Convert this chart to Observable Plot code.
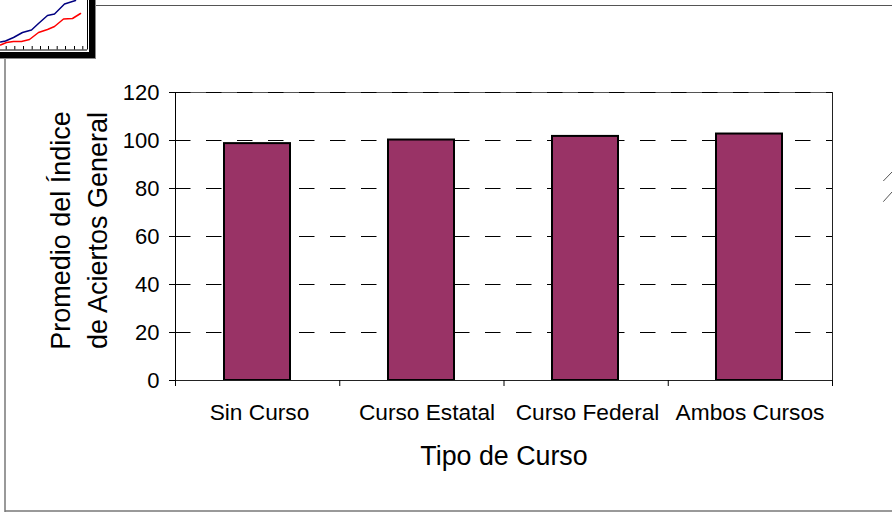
<!DOCTYPE html>
<html><head><meta charset="utf-8">
<script src="https://cdn.jsdelivr.net/npm/d3@7"></script>
<script src="https://cdn.jsdelivr.net/npm/@observablehq/plot@0.6"></script>
<style>
html,body{margin:0;padding:0;background:#fff;overflow:hidden}
#page{position:relative;width:892px;height:512px;overflow:hidden}
#page>*{position:absolute;left:0;top:0}
svg{font-family:"Liberation Sans",Arial,sans-serif}
#page>#thumbFrame{left:-12px;top:-12px;width:101px;height:64px;border-right:6px solid #000;border-bottom:6px solid #000;box-shadow:1px 1px 0 #888;background:#fff}
</style></head><body>
<div id="page">
<svg id="deco" width="892" height="512">
  <g stroke="#555" fill="none">
    <line x1="95" y1="5.5" x2="892" y2="5.5"/>
    <line x1="5" y1="58" x2="5" y2="512" stroke-width="1.5" stroke="#777"/>
    <line x1="5" y1="511" x2="892" y2="511" stroke-width="1.5" stroke="#777"/>
    <line x1="883.3" y1="181" x2="892" y2="172"/>
    <line x1="883.3" y1="201.7" x2="892" y2="192"/>
  </g>
</svg>
<div id="thumbFrame"></div>
</div>
<script>
const categories = ["Sin Curso","Curso Estatal","Curso Federal","Ambos Cursos"];
const promedio = [98.7,100.2,101.7,102.7];
const yTicks = [0,20,40,60,80,100,120];
const gridValues = [20,40,60,80,100,120];
const yTitle = "Promedio del Índice\nde Aciertos General";
const xTitle = "Tipo de Curso";
const thumbBlueX = [0,5,13,22,31,38,47,54,64,75];
const thumbBlueY = [41.5,40.5,37,32,29.5,23,15,13.5,3.5,0];
const thumbRedX = [0,6,13,21,29,38,47,54,63,72,80];
const thumbRedY = [44.5,42,41,41,39,32,29,26,18.5,18,13];
const thumbTicks = [5.7,14.3,23,31.7,40,48,56.7,65,74,82.3];

const table = categories.map((c,i)=>({c,v:promedio[i]}));
const labelShift = [1.5,5,1.5,0];
const ink = "#000", fontSize = 22;
const box = {width:892,height:512,marginLeft:175,marginRight:60,marginTop:92,marginBottom:132};

const chart = Plot.plot({
  ...box,
  style:{background:"transparent",fontFamily:"'Liberation Sans',Arial,sans-serif",color:ink},
  x:{type:"band",domain:categories,paddingInner:0.6,paddingOuter:0.3,align:0.5,label:null,axis:null},
  y:{domain:[0,120],label:null,axis:null},
  marks:[
    Plot.ruleY([120],{stroke:"#555",strokeWidth:1}),
    Plot.ruleY(gridValues,{stroke:ink,strokeWidth:1,strokeDasharray:"15.5,15.5"}),
    Plot.barY(table,{x:"c",y:"v",fill:"#993366",stroke:ink,strokeWidth:2,dx:-1}),
    Plot.axisY({ticks:yTicks,tickSize:6,tickPadding:10,fontSize,label:null,stroke:ink,fill:ink}),
    Plot.frame({anchor:"left",stroke:ink}),
    Plot.frame({anchor:"right",stroke:"#222"}),
    Plot.frame({anchor:"bottom",stroke:"#222"}),
    ...categories.map((c,i)=>Plot.text([c],{x:d=>d,frameAnchor:"bottom",dy:32,dx:labelShift[i]-0.5,lineAnchor:"middle",fontSize:22.7,fill:ink})),
    Plot.text([xTitle],{frameAnchor:"bottom",dy:76,lineAnchor:"middle",fontSize:26.8,fill:ink}),
    Plot.text([yTitle],{frameAnchor:"left",dx:-99,dy:-6,rotate:-90,textAnchor:"middle",lineHeight:1.36,fontSize:27,fill:ink})
  ]
});
// tick marks between the categories sit on the band edges, so they use a linear position scale
const ticks = Plot.plot({
  ...box,
  style:{background:"transparent"},
  x:{domain:[0,categories.length],label:null,axis:null},
  y:{domain:[0,120],label:null,axis:null},
  marks:[Plot.axisX({ticks:d3.range(categories.length+1),tickSize:6,tickFormat:()=>"",stroke:ink,label:null})]
});
const thumb = Plot.plot({
  width:96,height:58,margin:0,
  style:{background:"transparent"},
  x:{domain:[0,96],range:[0,96],label:null,axis:null},
  y:{domain:[0,58],range:[0,58],label:null,axis:null},
  marks:[
    Plot.ruleX(thumbTicks,{y1:46,y2:49.5,stroke:"#000"}),
    Plot.ruleY([49.5],{x1:0,x2:87,stroke:"#000"}),
    Plot.ruleX([87],{y1:0,y2:49.5,stroke:"#000"}),
    Plot.line(thumbBlueX.map((x,i)=>[x,thumbBlueY[i]]),{stroke:"#000080",strokeWidth:1.5}),
    Plot.line(thumbRedX.map((x,i)=>[x,thumbRedY[i]]),{stroke:"#ff0000",strokeWidth:1.5})
  ]
});
document.getElementById("page").append(chart,ticks,thumb);
</script>
</body></html>
